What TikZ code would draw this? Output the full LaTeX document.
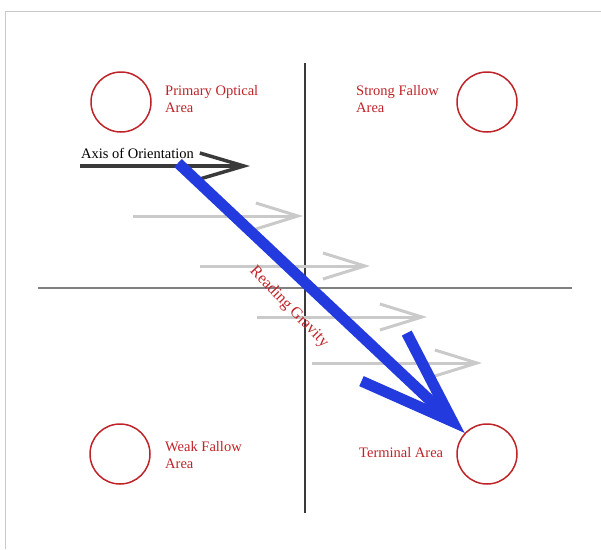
\documentclass[tikz,border=0pt]{standalone}
\usepackage{fontspec}
\setmainfont{Liberation Serif}
\usetikzlibrary{arrows.meta}

\definecolor{vermelho}{RGB}{190,35,40}
\definecolor{azul}{RGB}{35,58,222}
\definecolor{cinzaclaro}{RGB}{202,202,202}
\definecolor{cinzaescuro}{RGB}{58,58,58}

\begin{document}
\begin{tikzpicture}[x=1pt, y=-1pt, font=\fontsize{14.5}{16.5}\selectfont]

    % estilos
    \tikzstyle{area}=[circle, draw=vermelho, line width=1.5pt, minimum size=60pt, inner sep=0pt]
    \tikzstyle{rotulo}=[anchor=west, align=left, inner sep=0pt, text=vermelho]
    \tikzstyle{eixo}=[line width=1.1pt, cinzaescuro]
    \tikzstyle{varredura}=[line width=3pt, cinzaclaro, -{Straight Barb[length=42pt, width=26pt, sharp]}]
    \tikzstyle{orientacao}=[line width=3.5pt, cinzaescuro, -{Straight Barb[length=44pt, width=26pt, sharp]}]
    \tikzstyle{gravidade}=[line width=11pt, azul, -{Straight Barb[length=94pt, width=66pt, sharp]}]

    \useasboundingbox (0,0) rectangle (601,549);

    % moldura
    \draw[cinzaclaro, line width=1.5pt] (5.5,549) -- (5.5,11.5) -- (601,11.5);

    % eixos
    \coordinate (esq) at (38,288);
    \coordinate (dir) at (572,288);
    \coordinate (topo) at (305,63);
    \coordinate (base) at (305,513);
    \draw[eixo, gray] (esq) -- (dir);
    \draw[eixo] (topo) -- (base);

    % areas
    \node[area] (primaria) at (121,102) {};
    \node[area] (forte)    at (487,102) {};
    \node[area] (fraca)    at (120,454) {};
    \node[area] (terminal) at (487,454) {};

    \node[rotulo] (tprimaria) at (165,99)  {Primary Optical\\Area};
    \node[rotulo] (tforte)    at (356,99)  {Strong Fallow\\Area};
    \node[rotulo] (tfraca)    at (165,455) {Weak Fallow\\Area};
    \node[rotulo] (tterminal) at (359,453) {Terminal Area};

    % setas cinzas
    \foreach \i/\xa/\ya in {1/133/216, 2/200/266, 3/257/317, 4/312/363} {
      \coordinate (g\i a) at (\xa,\ya);
      \coordinate (g\i b) at (\xa+170,\ya);
      \draw[varredura] (g\i a) -- (g\i b);
    }

    % eixo de orientacao
    \coordinate (oa) at (80,166);
    \coordinate (ob) at (250,166);
    \draw[orientacao] (oa) -- (ob);
    \node[anchor=west, inner sep=0pt] (torientacao) at (81,153) {Axis of Orientation};

    % gravidade de leitura
    \coordinate (inicio) at (178,163);
    \draw[gravidade] (inicio) -- (terminal);
    \node[rotate=-46, text=vermelho, inner sep=0pt, font=\fontsize{16}{18}\selectfont] (tgravidade) at (289,307) {Reading Gravity};

\end{tikzpicture}
\end{document}
